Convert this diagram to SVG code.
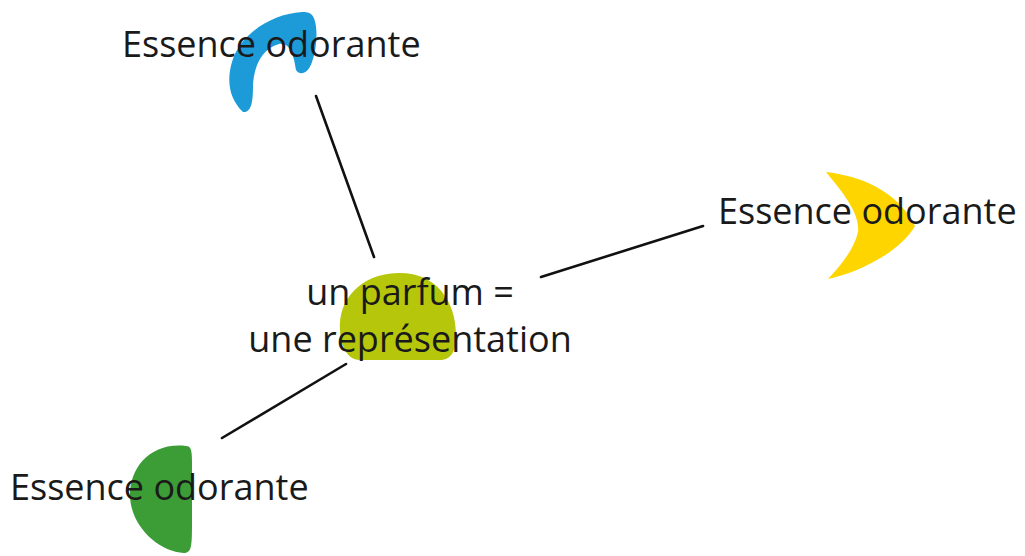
<svg xmlns="http://www.w3.org/2000/svg" width="1025" height="556" viewBox="0 0 1025 556">
<style>
.lbl{font-family:"Open Sans","Noto Sans",sans-serif;font-size:36px;fill:#1a1a1a}
.conn line{stroke:#111;stroke-width:2.6;stroke-linecap:round}
</style>
<rect width="1025" height="556" fill="#fff"/>
<g class="conn">
<line x1="316" y1="96" x2="374" y2="257"/>
<line x1="541" y1="277" x2="703" y2="226"/>
<line x1="346" y1="364" x2="222" y2="438"/>
</g>
<g id="center">
<path d="M340 330 C338 300 360 274 398 273 C435 272 456 300 456 335 C456 350 452 360 440 360 L360 360 C348 360 341 348 340 330 Z" fill="#b6c70b"/>
<text class="lbl" x="410" y="305" text-anchor="middle">un parfum =</text>
<text class="lbl" x="410" y="352" text-anchor="middle">une représentation</text>
</g>
<g id="top">
<path d="M302 12 C270 14 240 35 232 62 C226 82 230 100 243 112 C252 113 253 100 253 85 C254 65 263 48 279 44 C290 42 294 56 296 70 C300 76 308 74 312 62 C318 45 318 22 312 15 C309 12 306 12 302 12 Z" fill="#1d9ad8"/>
<text class="lbl" x="122" y="57">Essence odorante</text>
</g>
<g id="right">
<path d="M826 172 C860 176 897 190 915 226 C900 252 860 272 828 279 C840 266 854 250 858 232 C860 215 846 196 826 172 Z" fill="#ffd500"/>
<text class="lbl" x="718" y="224">Essence odorante</text>
</g>
<g id="bottom">
<path d="M186 446 C150 442 130 468 130 495 C130 525 158 552 184 553 C192 553 192 545 192 520 L192 462 C192 450 191 446 186 446 Z" fill="#3c9d36"/>
<text class="lbl" x="10" y="500">Essence odorante</text>
</g>
</svg>
